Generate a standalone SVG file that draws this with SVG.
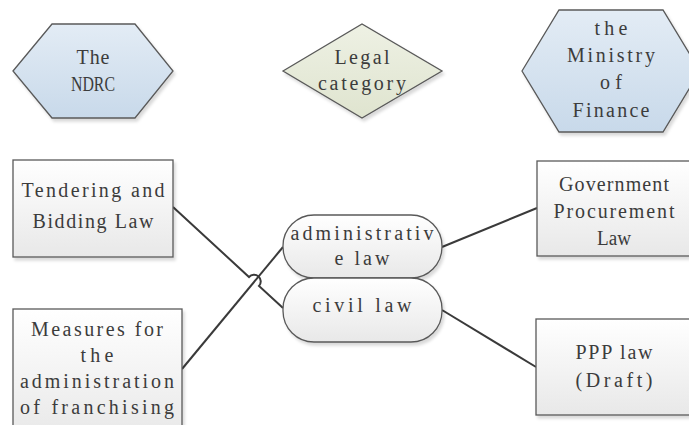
<svg xmlns="http://www.w3.org/2000/svg" width="689" height="425" viewBox="0 0 689 425">
<defs>
<linearGradient id="gHex" x1="0" y1="0" x2="0" y2="1"><stop offset="0" stop-color="#e3ecf5"/><stop offset="1" stop-color="#c8d9ea"/></linearGradient>
<linearGradient id="gDia" x1="0" y1="0" x2="0" y2="1"><stop offset="0" stop-color="#eef1e4"/><stop offset="1" stop-color="#dfe4cf"/></linearGradient>
<linearGradient id="gBox" x1="0" y1="0" x2="0" y2="1"><stop offset="0" stop-color="#ffffff"/><stop offset="1" stop-color="#e8e8e8"/></linearGradient>
<filter id="sh" x="-10%" y="-10%" width="125%" height="130%"><feDropShadow dx="2" dy="3" stdDeviation="1.5" flood-color="#000" flood-opacity="0.15"/></filter>
</defs>
<style>
.n{stroke:#595959;stroke-width:1.3;filter:url(#sh)}
.hex{fill:url(#gHex)}
.dia{fill:url(#gDia)}
.box{fill:url(#gBox)}
text{font-family:"Liberation Serif","Times New Roman",serif;font-size:20px;fill:#3c3c3c;text-anchor:middle}
.c{fill:none;stroke:#3a3a3a;stroke-width:2}
</style>
<rect width="689" height="425" fill="#ffffff"/>
<g id="connectors">
<path class="c" d="M173,207 L249,277 A5.5,5.5 0 0 1 259,286 L283,308"/>
<path class="c" d="M182,369 L283,247"/>
<path class="c" d="M442,247 L537,208"/>
<path class="c" d="M442,310 L536,367"/>
</g>
<g id="ndrc">
<polygon class="n hex" points="13,71 52,24 135,24 173,71 135,118 52,118"/>
<text x="93" y="64" textLength="33" lengthAdjust="spacing">The</text>
<text x="93" y="91" textLength="44" lengthAdjust="spacingAndGlyphs">NDRC</text>
</g>
<g id="legal">
<polygon class="n dia" points="283,71 362,24 442,71 362,118"/>
<text x="362" y="64" textLength="55" lengthAdjust="spacing">Legal</text>
<text x="362" y="90" textLength="88" lengthAdjust="spacing">category</text>
</g>
<g id="mof">
<polygon class="n hex" points="522,71 559,10 663,10 700,71 663,132 559,132"/>
<text x="611" y="35" textLength="33" lengthAdjust="spacing">the</text>
<text x="611" y="62" textLength="88" lengthAdjust="spacing">Ministry</text>
<text x="611" y="89" textLength="22" lengthAdjust="spacing">of</text>
<text x="611" y="117" textLength="77" lengthAdjust="spacing">Finance</text>
</g>
<g id="tendering">
<rect class="n box" x="13" y="160" width="160" height="97"/>
<text x="93" y="197" textLength="143" lengthAdjust="spacing">Tendering and</text>
<text x="93" y="228" textLength="121" lengthAdjust="spacing">Bidding Law</text>
</g>
<g id="measures">
<rect class="n box" x="13" y="309" width="169" height="130"/>
<text x="97" y="336" textLength="132" lengthAdjust="spacing">Measures for</text>
<text x="97" y="362" textLength="33" lengthAdjust="spacing">the</text>
<text x="97" y="388" textLength="154" lengthAdjust="spacing">administration</text>
<text x="97" y="414" textLength="154" lengthAdjust="spacing">of franchising</text>
</g>
<g id="admin">
<rect class="n box" x="283" y="215" width="159" height="63" rx="31" ry="31"/>
<text x="362" y="240" textLength="143" lengthAdjust="spacing">administrativ</text>
<text x="362" y="265" textLength="55" lengthAdjust="spacing">e law</text>
</g>
<g id="civil">
<rect class="n box" x="283" y="278" width="159" height="64" rx="31" ry="31"/>
<text x="362" y="312" textLength="99" lengthAdjust="spacing">civil law</text>
</g>
<g id="gov">
<rect class="n box" x="537" y="161" width="160" height="95"/>
<text x="614" y="191" textLength="110" lengthAdjust="spacing">Government</text>
<text x="614" y="218" textLength="121" lengthAdjust="spacing">Procurement</text>
<text x="614" y="245" textLength="34" lengthAdjust="spacingAndGlyphs">Law</text>
</g>
<g id="ppp">
<rect class="n box" x="536" y="319" width="160" height="96"/>
<text x="614" y="359" textLength="77" lengthAdjust="spacing">PPP law</text>
<text x="614" y="387" textLength="77" lengthAdjust="spacing">(Draft)</text>
</g>
</svg>
